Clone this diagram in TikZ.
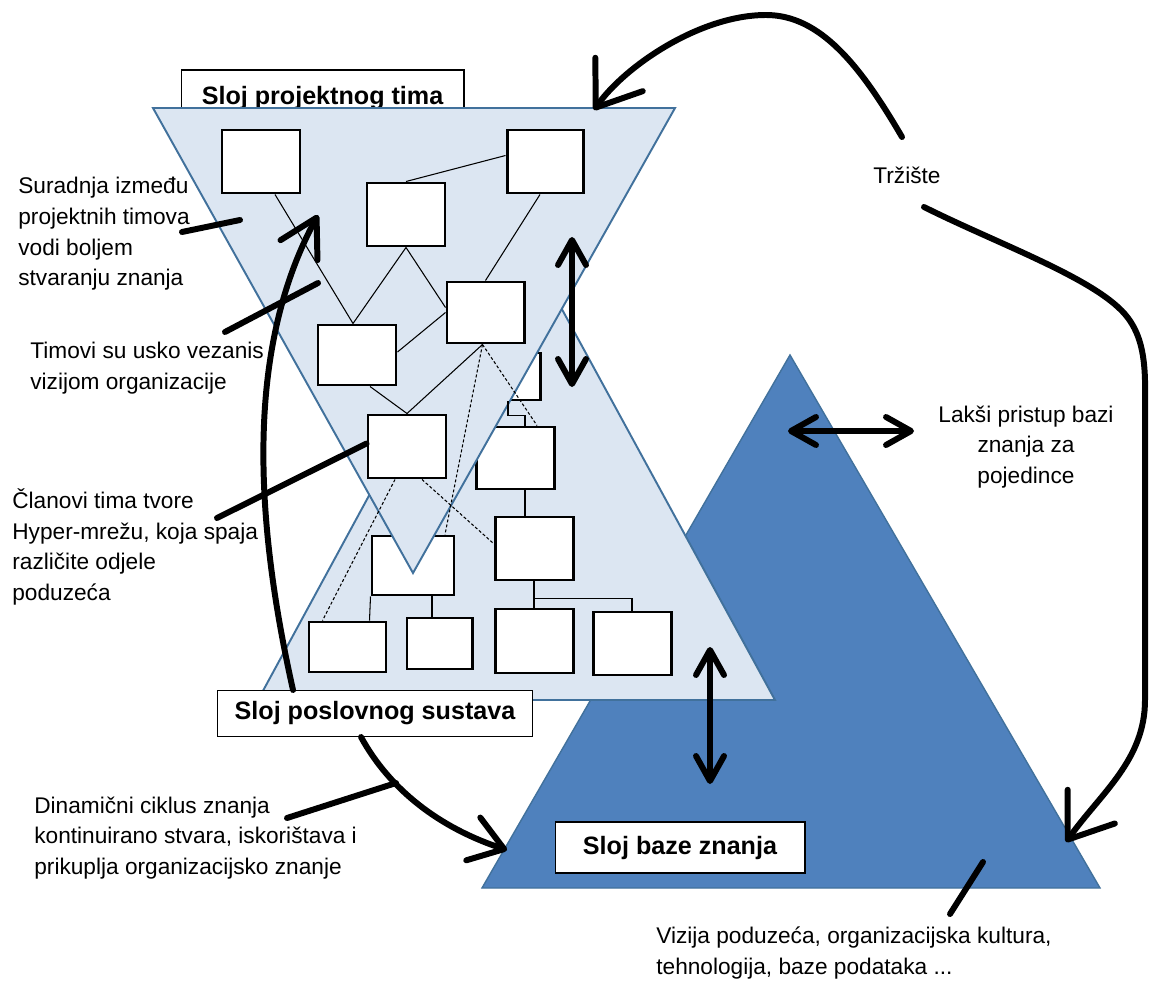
\documentclass[tikz,border=0pt]{standalone}
\usepackage{fontspec}
\setmainfont{Liberation Sans}
\usetikzlibrary{arrows.meta,calc}
\definecolor{teamfill}{HTML}{DCE6F2}
\definecolor{basefill}{HTML}{4F81BD}
\definecolor{edgeblue}{HTML}{41719C}
\tikzset{
    orgbox/.style 2 args={draw, fill=white, line width=1.7pt, inner sep=0pt,
        minimum width=#1*0.02cm, minimum height=#2*0.02cm},
    layerbox/.style={draw, fill=white, line width=0.6pt, inner sep=0pt,
        font=\bfseries\fontsize{14.3}{17}\selectfont},
    note/.style={inner sep=0pt, align=left, font=\fontsize{12.9}{17.5}\selectfont},
    link/.style={line width=0.6pt},
    hyper/.style={line width=0.6pt, dash pattern=on 1.7pt off 1.2pt},
    layer/.style={draw=edgeblue, line width=1.1pt},
    heavy/.style={line width=3.4pt, line cap=round, line join=round},
    both/.style={heavy, {Straight Barb[length=0.5cm,width=0.56cm,round]}-{Straight Barb[length=0.5cm,width=0.56cm,round]}},
    market/.style={heavy, -{Straight Barb[length=0.81cm,width=1.16cm,round]}}
}
\begin{document}
\begin{tikzpicture}[x=0.02cm, y=-0.02cm]
    \fill[white] (0,0) rectangle (1149,983);
    \useasboundingbox (0,0) rectangle (1149,983);

    % knowledge base layer
    \filldraw[layer, fill=basefill, line width=0.8pt] (482,888) -- (1100,888) -- (790,355) -- cycle;
    \node[layerbox, minimum width=5.66cm, minimum height=1.14cm] (projekt) at (322.5,98.5) {Sloj projektnog tima};

    % business system layer
    \filldraw[layer, fill=teamfill] (258,700) -- (775,700) -- (516,225) -- cycle;
    \node[orgbox={78}{47}] (b6) at (501,376.5) {};
    \node[orgbox={78}{62}] (b7) at (515,458) {};
    \node[orgbox={82}{59}] (b9) at (413,565.5) {};

    % project team layer
    \filldraw[layer, fill=teamfill] (153,108) -- (675,108) -- (413,573) -- cycle;
    \node[orgbox={78}{63}] (b1) at (261,161.5) {};
    \node[orgbox={76}{63}] (b2) at (545,161.5) {};
    \node[orgbox={78}{63}] (b3) at (406,214.5) {};
    \node[orgbox={77}{61}] (b4) at (485.5,312.5) {};
    \node[orgbox={78}{60}] (b5) at (357,355) {};
    \node[orgbox={78}{63}] (b10) at (407,446.5) {};
    \node[orgbox={78}{63}] (b8) at (534,548.5) {};
    \node[orgbox={77}{50}] (b11) at (347.5,647) {};
    \node[orgbox={65}{51}] (b12) at (439.5,643.5) {};
    \node[orgbox={78}{64}] (b13) at (534,641) {};
    \node[orgbox={78}{63}] (b14) at (632,643.5) {};

    \draw[link] ($(b1.south)+(14,0)$) -- ($(b5.north)+(-4,0)$);
    \draw[link] (b3.north) -- ($(b2.west)+(0,-6)$);
    \draw[link] (b3.south) -- ($(b5.north)+(-4,0)$);
    \draw[link] (b3.south) -- ($(b4.west)+(0,-5)$);
    \draw[link] ($(b2.south)+(-5,0)$) -- (b4.north);
    \draw[link] ($(b5.east)+(0,-3)$) -- (b4.west);
    \draw[link] ($(b5.south)+(13,0)$) -- (b10.north);
    \draw[link] ($(b4.south)+(-3,0)$) -- (b10.north);
    \draw[hyper] ($(b4.south)+(-3,0)$) -- ($(b9.north)+(32,0)$);
    \draw[hyper] ($(b4.south)+(-3,0)$) -- ($(b7.north)+(22,0)$);
    \draw[hyper] ($(b10.south)+(-12,0)$) -- ($(b11.north)+(-25,0)$);
    \draw[hyper] ($(b10.south)+(15,0)$) -- ($(b8.west)+(0,-5)$);
    \draw[link] ($(b6.south)+(7,0)$) -- ++(0,14) -| ($(b7.north)+(10,0)$);
    \draw[link] ($(b7.south)+(10,0)$) -- ($(b8.north)+(-9,0)$);
    \draw[link] (b9.south west) -- ($(b11.north)+(22,0)$);
    \draw[link] ($(b9.south)+(19,0)$) -- ($(b12.north)+(-7.5,0)$);
    \draw[link] (b8.south) -- (b13.north);
    \draw[link] (b8.south) -- ++(0,17) -| (b14.north);

    \node[layerbox, minimum width=6.3cm, minimum height=0.92cm] (poslovni) at (375,713.5) {Sloj poslovnog sustava};
    \node[layerbox, minimum width=5cm, minimum height=1.02cm] (baza) at (680,847.5) {Sloj baze znanja};

    % notes
    \node[note, anchor=west] (suradnja) at (18,234) {Suradnja između\\projektnih timova\\vodi boljem\\stvaranju znanja};
    \node[note, anchor=west] (timovi) at (30,368) {Timovi su usko vezanis\\vizijom organizacije};
    \node[note, anchor=west] (clanovi) at (12,547) {Članovi tima tvore\\Hyper-mrežu, koja spaja\\različite odjele\\poduzeća};
    \node[note, anchor=west] (dinamicni) at (34,838) {Dinamični ciklus znanja\\kontinuirano stvara, iskorištava i\\prikuplja organizacijsko znanje};
    \node[note, align=center] (laksi) at (1026,447) {Lakši pristup bazi\\znanja za\\pojedince};
    \node[note] (trziste) at (907,175) {Tržište};
    \node[note, anchor=west] (vizija) at (656,953) {Vizija poduzeća, organizacijska kultura,\\tehnologija, baze podataka ...};

    % pointers
    \coordinate (s1) at (182,232);  \coordinate (s2) at (240,220);
    \coordinate (t1) at (225,332);  \coordinate (t2) at (318,283);
    \coordinate (c1) at (217,518);
    \coordinate (d1) at (287,818);  \coordinate (d2) at (396,783);
    \coordinate (v1) at (950,914);  \coordinate (v2) at (983,862);
    \draw[heavy] (s1) -- (s2);
    \draw[heavy] (t1) -- (t2);
    \draw[heavy] (c1) -- ($(b10.west)+(0,-3)$);
    \draw[heavy] (d1) -- (d2);
    \draw[heavy] (v1) -- (v2);

    % double arrows
    \coordinate (u1) at (572,237);  \coordinate (u2) at (572,387);
    \coordinate (w1) at (710,647);  \coordinate (w2) at (710,784);
    \coordinate (h1) at (788,431);  \coordinate (h2) at (914,431);
    \draw[both] (u1) -- (u2);
    \draw[both] (w1) -- (w2);
    \draw[both] (h1) -- (h2);

    % knowledge cycle
    \coordinate (arcend) at (318,215);
    \coordinate (cycend) at (507,850);
    \draw[heavy, -{Straight Barb[length=0.74cm,width=0.84cm,round]}]
        ($(poslovni.north west)+(76,0)$) .. controls (255,520) and (245,350) .. (arcend);
    \draw[heavy, -{Straight Barb[length=0.65cm,width=0.9cm,round]}]
        ($(poslovni.south west)+(144,0)$) .. controls (390,790) and (440,828) .. (cycend);

    % market
    \coordinate (m1) at (902,137);  \coordinate (m2) at (594,110);
    \coordinate (n1) at (924,207);  \coordinate (n2) at (1066,842);
    \draw[market] (m1) .. controls (860,65) and (820,15) .. (766,15)
        .. controls (700,15) and (625,66) .. (m2);
    \draw[market] (n1) .. controls (1000,245) and (1100,280) .. (1128,318)
        .. controls (1148,345) and (1145,380) .. (1145,420) -- (1145,700)
        .. controls (1145,760) and (1101,793) .. (n2);
\end{tikzpicture}
\end{document}
